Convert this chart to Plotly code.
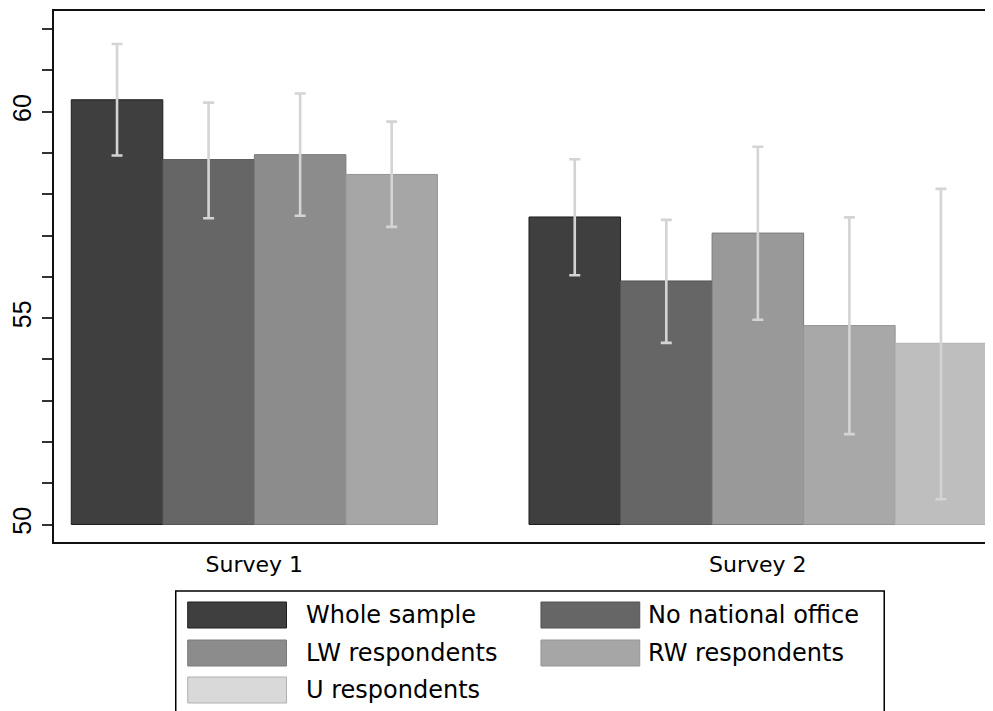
import plotly.graph_objects as go

# ---------------- data ----------------
surveys = ["Survey 1", "Survey 2"]
series = ["Whole sample", "No national office", "LW respondents", "RW respondents", "U respondents"]

# mean values per series: [Survey 1, Survey 2]  (None = not present)
whole_sample = [60.29, 57.45]
no_national_office = [58.84, 55.90]
lw_respondents = [58.96, 57.06]
rw_respondents = [58.48, 54.82]
u_respondents = [None, 54.39]

# confidence interval bounds
whole_lo = [58.94, 56.04]
whole_hi = [61.64, 58.85]
nno_lo = [57.42, 54.40]
nno_hi = [60.22, 57.38]
lw_lo = [57.48, 54.96]
lw_hi = [60.44, 59.15]
rw_lo = [57.21, 52.19]
rw_hi = [59.76, 57.44]
u_lo = [None, 50.61]
u_hi = [None, 58.13]

y_ticks = list(range(50, 63))
y_labels = ["50", "55", "60"]

# ---------------- styles ----------------
bar_fill = [["#3f3f3f", "#3f3f3f"], ["#666666", "#666666"], ["#8c8c8c", "#999999"],
            ["#a6a6a6", "#a8a8a8"], ["#bebebe", "#bebebe"]]
bar_line = ["#1e1e1e", "#555555", "#7a7a7a", "#959595", "#b0b0b0"]
legend_fill = ["#3f3f3f", "#666666", "#8c8c8c", "#a6a6a6", "#d9d9d9"]
FONT = "DejaVu Sans, sans-serif"
FONT_Y = "Liberation Sans, Arial, sans-serif"
BASE = 50

values = [whole_sample, no_national_office, lw_respondents, rw_respondents, u_respondents]
los = [whole_lo, nno_lo, lw_lo, rw_lo, u_lo]
his = [whole_hi, nno_hi, lw_hi, rw_hi, u_hi]

# bar slot positions: survey 1 bars occupy slots 0..3, gap, survey 2 bars slots 5..9
n_s1 = sum(1 for v in values if v[0] is not None)
group_start = [0, n_s1 + 1]

fig = go.Figure()
for k, name in enumerate(series):
    xs, ys, up, dn, cols = [], [], [], [], []
    for g in range(len(surveys)):
        v = values[k][g]
        if v is None:
            continue
        xs.append(group_start[g] + k)
        ys.append(v - BASE)
        up.append(his[k][g] - v)
        dn.append(v - los[k][g])
        cols.append(bar_fill[k][g])
    fig.add_trace(go.Bar(
        name=name, x=xs, y=ys, base=BASE, width=1,
        marker=dict(color=cols, line=dict(color=bar_line[k], width=1)),
        error_y=dict(type="data", symmetric=False, array=up, arrayminus=dn,
                     color="#d4d4d4", thickness=2.6, width=5.5),
        showlegend=False,
    ))

# category tick positions (group centres)
n_s2 = sum(1 for v in values if v[1] is not None)
centers = [group_start[0] + (n_s1 - 1) / 2, group_start[1] + (n_s2 - 1) / 2]

# ---------------- layout ----------------
OFF = 8  # page body margin
FW, FH = 993 - OFF, 711 - OFF
L, T, W_, H_ = 52 - OFF, 11 - OFF, 941, 531
fig.update_layout(
    width=FW, height=FH,
    margin=dict(l=L, r=0, t=T, b=FH - T - H_),
    plot_bgcolor="white", paper_bgcolor="white",
    barmode="overlay",
    font=dict(family=FONT, size=22, color="black"),
    xaxis=dict(range=[-0.6886, 9.5687], tickvals=centers, ticktext=surveys,
               showgrid=False, zeroline=False, ticks="", showline=True,
               linecolor="#111111", linewidth=2, mirror=True,
               tickfont=dict(size=22), ticklabelstandoff=2),
    yaxis=dict(range=[49.576, 62.44], tickvals=y_ticks,
               ticktext=[str(t) if str(t) in y_labels else "" for t in y_ticks],
               tickangle=-90, showgrid=False, zeroline=False, ticks="outside",
               ticklen=10, tickwidth=1.5, tickcolor="#333333",
               showline=True, linecolor="#111111", linewidth=2, mirror=False,
               tickfont=dict(family=FONT_Y, size=25), ticklabelstandoff=1),
)

# ---------------- legend (drawn box) ----------------
def xp(px):
    return (px - OFF - L) / W_

def yp(py):
    return (T + H_ - (py - OFF)) / H_

shapes = [dict(type="rect", xref="paper", yref="paper", x0=xp(174), x1=xp(884),
               y0=yp(591), y1=yp(740), line=dict(color="black", width=1.5),
               fillcolor="white", layer="below")]
annots = []
col_sw = [186, 540]
col_tx = [303, 645]
row_cy = [615, 653, 690]
for k, name in enumerate(series):
    r, c = divmod(k, 2)
    cy = row_cy[r]
    shapes.append(dict(type="rect", xref="paper", yref="paper",
                       x0=xp(col_sw[c]), x1=xp(col_sw[c] + 99),
                       y0=yp(cy - 13), y1=yp(cy + 13),
                       fillcolor=legend_fill[k], line=dict(color=bar_line[k], width=1)))
    annots.append(dict(xref="paper", yref="paper", x=xp(col_tx[c]), y=yp(cy),
                       text=name, showarrow=False, xanchor="left", yanchor="middle",
                       font=dict(family=FONT, size=24, color="black")))
fig.update_layout(shapes=shapes, annotations=annots)

fig.write_html("out.html")
